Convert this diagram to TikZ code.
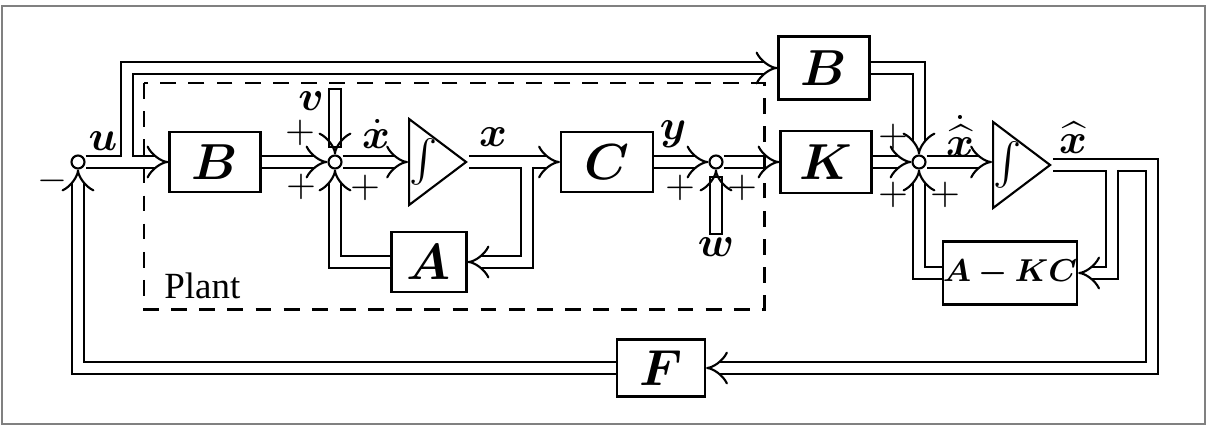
\documentclass[tikz,border=0pt]{standalone}
\usepackage{amsmath}
\usepackage{bm}
\usepackage{fontspec}
\setmainfont{Liberation Serif}
\usetikzlibrary{arrows.meta, shapes.geometric, calc}

\begin{document}
\begin{tikzpicture}[x=0.01cm, y=-0.01cm,
    blk/.style={draw, line width=0.6pt, inner sep=0pt, font=\Large},
    sumj/.style={draw, circle, fill=white, line width=0.6pt, inner sep=0pt, minimum size=0.13cm},
    integ/.style={draw, isosceles triangle, isosceles triangle stretches, line width=0.6pt, inner sep=0pt, minimum width=0.86cm, minimum height=0.57cm},
    sig/.style={double, double distance=2.7pt, line width=0.6pt, -{Implies[length=4pt, width=9pt]}},
    lbl/.style={font=\fontsize{13}{15}\selectfont},
    pm/.style={font=\fontsize{11}{13}\selectfont}]
        \useasboundingbox (0,0) rectangle (1212,427);
        \draw[gray, line width=0.6pt] (2,6) rectangle (1205,424);

        % blocks
        \node[blk, minimum width=0.91cm, minimum height=0.60cm] (Bp) at (215,162) {$\bm{B}$};
        \node[blk, minimum width=0.92cm, minimum height=0.60cm] (C) at (607,162) {$\bm{C}$};
        \node[blk, minimum width=0.75cm, minimum height=0.60cm] (A) at (429,262) {$\bm{A}$};
        \node[blk, minimum width=0.91cm, minimum height=0.62cm] (K) at (826,162) {$\bm{K}$};
        \node[blk, minimum width=0.91cm, minimum height=0.63cm] (Bo) at (824,68) {$\bm{B}$};
        \node[blk, minimum width=1.33cm, minimum height=0.63cm, font=\fontsize{9.5}{11}\selectfont] (AKC) at (1010,273) {$\bm{A-KC}$};
        \node[blk, minimum width=0.88cm, minimum height=0.57cm] (F) at (661,368) {$\bm{F}$};

        % integrators
        \node[integ, anchor=lower side] (I1) at (408,162) {};
        \node[integ, anchor=lower side] (I2) at (992,165) {};
        \node[font=\large] (int1) at (424,162) {$\int$};
        \node[font=\large] (int2) at (1008,165) {$\int$};

        % summing points
        \node[sumj] (s0) at (78,162) {};
        \node[sumj] (s1) at (335,162) {};
        \node[sumj] (s2) at (716,162) {};
        \node[sumj] (s3) at (919,162) {};

        \coordinate (br0) at (127,162);
        \coordinate (br1) at (527,162);
        \coordinate (br2) at (1112,165);
        \coordinate (fb) at (1152,368);
        \coordinate (vin) at (335,95);
        \coordinate (win) at (716,228);

        % signals
        \draw[sig] (s0.east) -- (Bp.west);
        \draw[sig] ([yshift=1.35pt]br0) |- (Bo.west);
        \draw[sig] (Bp.east) -- (s1.west);
        \draw[sig, line cap=rect] (vin) -- (s1.north);
        \draw[sig] (A.west) -| (s1.south);
        \draw[sig] (s1.east) -- (s1.east -| I1.lower side);
        \draw[sig] (I1.apex) -- (C.west);
        \draw[sig] ([yshift=-1.35pt]br1) |- (A.east);
        \draw[sig] (C.east) -- (s2.west);
        \draw[sig, line cap=rect] (win) -- (s2.south);
        \draw[sig] (s2.east) -- (K.west);
        \draw[sig] (K.east) -- (s3.west);
        \draw[sig] (Bo.east) -| (s3.north);
        \draw[sig] (AKC.west) -| (s3.south);
        \draw[sig] (s3.east) -- (s3.east -| I2.lower side);
        \draw[sig] (I2.apex) -| (fb) -- (F.east);
        \draw[sig] ([yshift=-1.35pt]br2) |- (AKC.east);
        \draw[sig] (F.west) -| (s0.south);

        % plant
        \draw[dashed, line width=0.85pt, dash pattern=on 4.5pt off 3.5pt] (144,83) rectangle (764,309);
        \node[anchor=base west, font=\fontsize{10.5}{12}\selectfont] (plant) at (152,298) {Plant};

        % labels
        \node[lbl] (lu) at (103,141) {$\bm{u}$};
        \node[pm] (lm) at (52,181) {$-$};
        \node[lbl] (lv) at (311,101) {$\bm{v}$};
        \node[lbl] (lxd) at (376,134) {$\dot{\bm{x}}$};
        \node[lbl] (lx) at (493,137) {$\bm{x}$};
        \node[lbl] (ly) at (673,134) {$\bm{y}$};
        \node[lbl] (lw) at (716,247) {$\bm{w}$};
        \node[lbl] (lxhd) at (960,136) {$\dot{\widehat{\bm{x}}}$};
        \node[lbl] (lxh) at (1073,138) {$\widehat{\bm{x}}$};
        \node[pm] (p1) at (300,133) {$+$};
        \node[pm] (p2) at (301,187) {$+$};
        \node[pm] (p3) at (365,188) {$+$};
        \node[pm] (p4) at (680,188) {$+$};
        \node[pm] (p5) at (742,188) {$+$};
        \node[pm] (p6) at (893,137) {$+$};
        \node[pm] (p7) at (893,195) {$+$};
        \node[pm] (p8) at (945,195) {$+$};

      \end{tikzpicture}
\end{document}
